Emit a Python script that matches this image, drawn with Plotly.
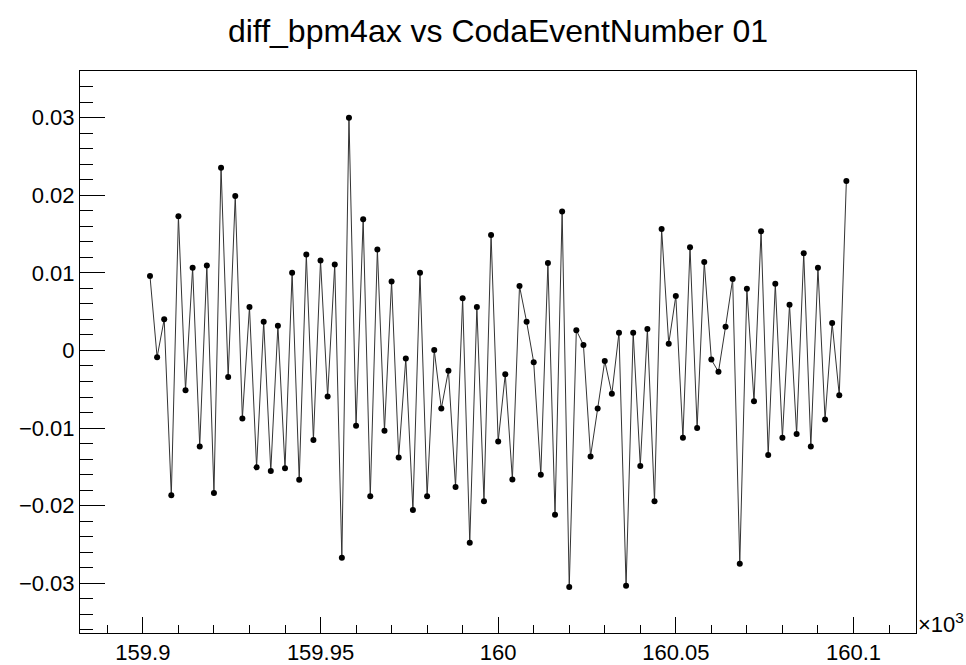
import plotly.graph_objects as go

event_number = [
    159902, 159904, 159906, 159908, 159910, 159912, 159914, 159916, 159918, 159920,
    159922, 159924, 159926, 159928, 159930, 159932, 159934, 159936, 159938, 159940,
    159942, 159944, 159946, 159948, 159950, 159952, 159954, 159956, 159958, 159960,
    159962, 159964, 159966, 159968, 159970, 159972, 159974, 159976, 159978, 159980,
    159982, 159984, 159986, 159988, 159990, 159992, 159994, 159996, 159998, 160000,
    160002, 160004, 160006, 160008, 160010, 160012, 160014, 160016, 160018, 160020,
    160022, 160024, 160026, 160028, 160030, 160032, 160034, 160036, 160038, 160040,
    160042, 160044, 160046, 160048, 160050, 160052, 160054, 160056, 160058, 160060,
    160062, 160064, 160066, 160068, 160070, 160072, 160074, 160076, 160078, 160080,
    160082, 160084, 160086, 160088, 160090, 160092, 160094, 160096, 160098,
]

diff_bpm4ax = [
    0.00958, -0.00087, 0.00401, -0.01866, 0.01729, -0.00512, 0.01064, -0.01237, 0.01095, -0.01835,
    0.02355, -0.00341, 0.01990, -0.00877, 0.00559, -0.01506, 0.00370, -0.01553, 0.00319, -0.01519,
    0.01000, -0.01665, 0.01237, -0.01154, 0.01159, -0.00594, 0.01108, -0.02671, 0.02997, -0.00970,
    0.01690, -0.01879, 0.01301, -0.01035, 0.00889, -0.01378, -0.00105, -0.02054, 0.01000, -0.01879,
    0.00006, -0.00748, -0.00260, -0.01758, 0.00671, -0.02478, 0.00559, -0.01943, 0.01488, -0.01172,
    -0.00306, -0.01661, 0.00829, 0.00370, -0.00152, -0.01600, 0.01125, -0.02118, 0.01789, -0.03049,
    0.00260, 0.00071, -0.01365, -0.00748, -0.00135, -0.00559, 0.00229, -0.03031, 0.00229, -0.01488,
    0.00276, -0.01943, 0.01566, 0.00087, 0.00701, -0.01125, 0.01330, -0.01000, 0.01141, -0.00118,
    -0.00276, 0.00306, 0.00919, -0.02748, 0.00794, -0.00653, 0.01536, -0.01347, 0.00859, -0.01125,
    0.00589, -0.01077, 0.01253, -0.01237, 0.01064, -0.00889, 0.00353, -0.00576, 0.02183,
]

x_tick_values = [159900, 159950, 160000, 160050, 160100]
x_tick_labels = ["159.9", "159.95", "160", "160.05", "160.1"]
y_tick_values = [-0.03, -0.02, -0.01, 0.0, 0.01, 0.02, 0.03]
y_tick_labels = ["\u22120.03", "\u22120.02", "\u22120.01", "0", "0.01", "0.02", "0.03"]

title_text = "diff_bpm4ax vs CodaEventNumber 01"
font_family = "Liberation Sans, Arial, Helvetica, sans-serif"

fig = go.Figure()
fig.add_trace(go.Scatter(
    x=event_number,
    y=diff_bpm4ax,
    mode="lines+markers",
    line=dict(color="#333333", width=1),
    marker=dict(color="black", size=6),
    showlegend=False,
))

fig.update_layout(
    width=966,
    height=665,
    paper_bgcolor="white",
    plot_bgcolor="white",
    margin=dict(l=80, r=50, t=71, b=32, autoexpand=False),
    font=dict(family=font_family, color="black"),
    title=dict(
        text=title_text,
        x=0.5,
        xanchor="center",
        xref="paper",
        y=1 - 31 / 665,
        yanchor="middle",
        yref="container",
        font=dict(size=32, family=font_family, color="black"),
    ),
)

fig.update_xaxes(
    automargin=False,
    range=[159882.3, 160117.6],
    tickmode="array",
    tickvals=x_tick_values,
    ticktext=x_tick_labels,
    ticks="inside",
    ticklen=16,
    tickwidth=1,
    tickcolor="black",
    minor=dict(ticks="inside", ticklen=8, tickwidth=1, tickcolor="black", dtick=10, tick0=159900, showgrid=False),
    showline=True,
    linecolor="black",
    linewidth=1,
    mirror=True,
    showgrid=False,
    zeroline=False,
    tickfont=dict(size=22, family=font_family, color="black"),
)

fig.update_yaxes(
    automargin=False,
    range=[-0.0364, 0.0360],
    tickmode="array",
    tickvals=y_tick_values,
    ticktext=y_tick_labels,
    ticks="inside",
    ticklen=25,
    tickwidth=1,
    tickcolor="black",
    minor=dict(ticks="inside", ticklen=13, tickwidth=1, tickcolor="black", dtick=0.002, tick0=0, showgrid=False),
    showline=True,
    linecolor="black",
    linewidth=1,
    mirror=True,
    showgrid=False,
    zeroline=False,
    tickfont=dict(size=22, family=font_family, color="black"),
)

fig.add_annotation(
    text="\u00d710<sup>3</sup>",
    xref="paper", yref="paper",
    x=1, y=0,
    xanchor="left", yanchor="bottom",
    xshift=0, yshift=-6,
    showarrow=False,
    font=dict(size=22, family=font_family, color="black"),
)

fig.write_html("out.html")
